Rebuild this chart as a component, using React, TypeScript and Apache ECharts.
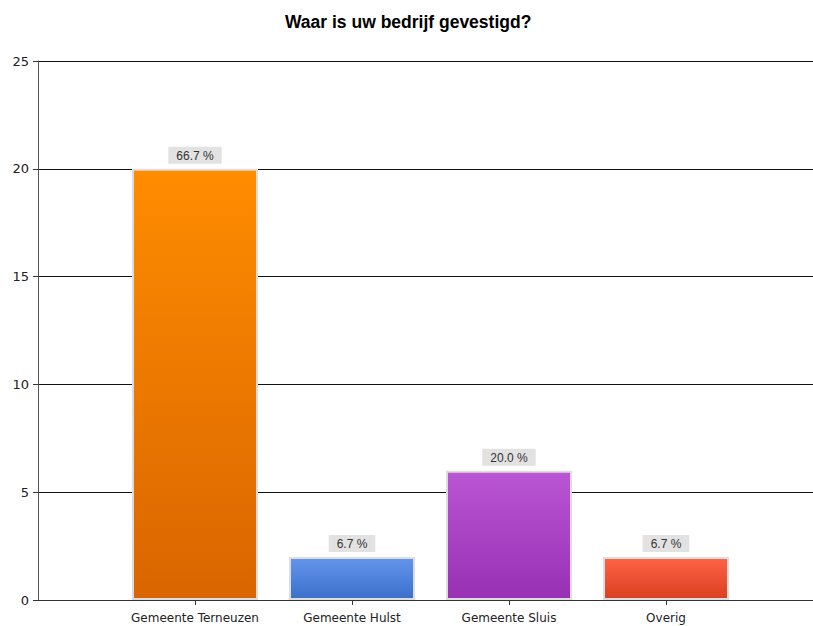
import React, { useEffect, useRef } from "react";
import * as echarts from "echarts";

const categories = ["", "Gemeente Terneuzen", "Gemeente Hulst", "Gemeente Sluis", "Overig", ""];
const values = [null, 20, 2, 6, 2, null];
const percentLabels = ["", "66.7 %", "6.7 %", "20.0 %", "6.7 %", ""];
const topColors = ["", "#FF8C00", "#6495ED", "#BA55D3", "#FF6347", ""];
const bottomColors = ["", "#D96500", "#3B6FC9", "#9830B4", "#D9401F", ""];

export default function App() {
  const ref = useRef<HTMLDivElement>(null);
  useEffect(() => {
    const chart = echarts.init(ref.current!, null, { renderer: "svg" });
    const data = values.map((v, i) =>
      v === null
        ? null
        : {
            value: v,
            itemStyle: {
              color: new echarts.graphic.LinearGradient(0, 0, 0, 1, [
                { offset: 0, color: topColors[i] },
                { offset: 1, color: bottomColors[i] },
              ]),
            },
          }
    );
    chart.setOption({
      animation: false,
      textStyle: { fontFamily: "Liberation Sans, Arial, sans-serif" },
      title: {
        text: "Waar is uw bedrijf gevestigd?",
        left: 280,
        top: 8,
        textStyle: { fontSize: 17.5, fontWeight: "bold", color: "#000" },
      },
      grid: { left: 38, top: 61, width: 785, height: 539, containLabel: false },
      xAxis: {
        type: "category",
        data: categories,
        boundaryGap: false,
        axisLine: { lineStyle: { color: "#333", width: 1 } },
        axisTick: {
          length: 5,
          lineStyle: { color: "#333" },
          interval: (i: number) => i > 0 && i < categories.length - 1,
        },
        axisLabel: { color: "#222", fontSize: 12, margin: 12, interval: 0, fontFamily: "DejaVu Sans" },
        splitLine: { show: false },
      },
      yAxis: {
        type: "value",
        min: 0,
        max: 25,
        interval: 5,
        axisLine: { show: true, lineStyle: { color: "#555", width: 1 } },
        axisTick: { show: true, length: 5, lineStyle: { color: "#333" } },
        axisLabel: { color: "#222", fontSize: 13, margin: 9, fontFamily: "DejaVu Sans" },
        splitLine: { show: true, lineStyle: { color: "#111", width: 1 } },
      },
      series: [
        {
          type: "bar",
          data,
          barWidth: 126,
          itemStyle: { borderColor: "#DDDDDD", borderWidth: 2 },
          label: {
            show: true,
            position: "top",
            distance: 5,
            formatter: (p: any) => percentLabels[p.dataIndex],
            backgroundColor: "#E2E2E2",
            padding: [3, 8, 2, 8],
            color: "#333",
            fontSize: 12,
          },
        },
      ],
    });
    return () => chart.dispose();
  }, []);
  return (
    <div style={{ position: "absolute", left: 0, top: 0, width: 813, height: 626, overflow: "hidden" }}>
      <div ref={ref} style={{ width: 830, height: 626 }} />
    </div>
  );
}
